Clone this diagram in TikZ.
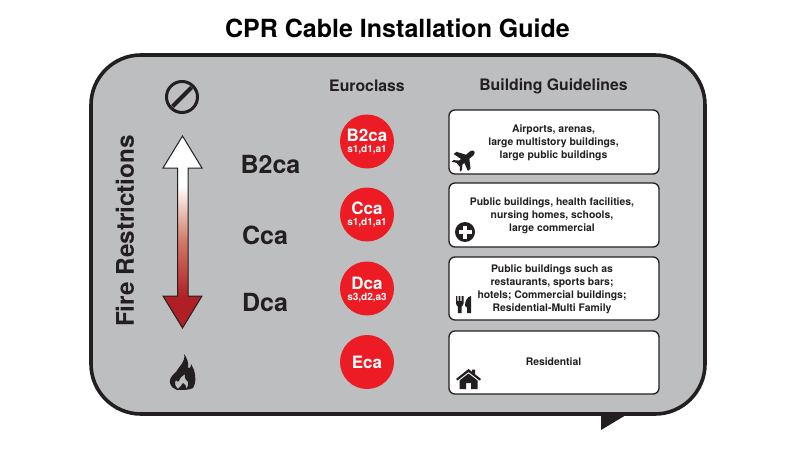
\documentclass[tikz,border=0pt]{standalone}
\usepackage{fontspec}
\setmainfont{TeX Gyre Heros}
\definecolor{inkblack}{HTML}{231F20}
\definecolor{bubblegrey}{HTML}{BCBEC0}
\definecolor{classred}{HTML}{ED1C24}
\definecolor{firered}{HTML}{B01F25}
\definecolor{firemid}{HTML}{D27C68}
\pgfdeclareverticalshading{firegrad}{100bp}{color(0bp)=(firered); color(33bp)=(firered); color(48bp)=(firemid); color(62bp)=(white); color(100bp)=(white)}
\tikzset{
  headtext/.style={font=\bfseries\fontsize{15.8}{18}\selectfont,text=inkblack},
  classtext/.style={font=\bfseries\fontsize{25}{28}\selectfont,text=inkblack},
  guidebox/.style={draw=inkblack,line width=1.3pt,fill=white,rounded corners=6pt},
  guidetext/.style={font=\bfseries\fontsize{10.4}{13}\selectfont,text=inkblack,align=center},
  classdisc/.style={circle,fill=classred,minimum size=54pt,inner sep=0pt},
  discbig/.style={font=\bfseries\fontsize{17}{17}\selectfont,text=white,inner sep=0pt},
  discsmall/.style={font=\bfseries\fontsize{10}{10}\selectfont,text=white,inner sep=0pt},
}
\begin{document}
\begin{tikzpicture}[scale=1.000000,x=1pt,y=1pt]
\useasboundingbox (0,0) rectangle (795,448);
% Title
\node[font=\bfseries\fontsize{25}{28}\selectfont,text=black] (title) at (397.5,420) {CPR Cable Installation Guide};
% Speech bubble
\draw[line width=3.6pt,draw=inkblack,fill=bubblegrey] (141,393) -- (655,393) arc (90:0:50) -- (705,84) arc (0:-90:50) -- (141,34) arc (270:180:50) -- (91,343) arc (180:90:50) -- cycle;
\fill[inkblack] (601,36) -- (601,18) -- (631,36) -- cycle;
% Column headings
\node[headtext] (euroclass) at (367,362) {Euroclass};
\node[headtext] (guidelines) at (553.5,362) {Building Guidelines};
% Side label and class names
\node[rotate=90,font=\bfseries\fontsize{24.3}{28}\selectfont,text=inkblack] (restrictions) at (125,217) {Fire Restrictions};
\node[classtext] (labelb) at (270.5,284) {B2ca};
\node[classtext] (labelc) at (265,213) {Cca};
\node[classtext] (labeld) at (265,146) {Dca};
% No-entry icon
\draw[line width=3pt,draw=inkblack] (182,351) circle (15.5pt);
\draw[line width=4pt,draw=inkblack] (172.5,341.5) -- (191.5,360.5);
% Double arrow
\path[draw=inkblack,line width=1pt,shading=firegrad] (182.5,312) -- (202,280) -- (188,280) -- (188,152) -- (202,152) -- (182.5,120) -- (163,152) -- (177.5,152) -- (177.5,280) -- (163,280) -- cycle;
% Flame icon
\fill[inkblack,even odd rule] (184,94) .. controls (186,86) and (179,82) .. (176,76) .. controls (171,72) and (169,68) .. (170,65) .. controls (171,61) and (174,59) .. (177,58) .. controls (183,58) and (190,58) .. (193,60) .. controls (196,65) and (196,70) .. (194,78) .. controls (193,80) and (192,82) .. (191,84) .. controls (191,80) and (189,79) .. (188,80) .. controls (189,85) and (187,90) .. (184,94) -- cycle
 (178,59) .. controls (175,62) and (174,65) .. (176,68) .. controls (177,66) and (178,66) .. (179,67) .. controls (180,71) and (183,72) .. (185,74) .. controls (184,70) and (186,68) .. (188,66) .. controls (189,64) and (188,61) .. (186,59) .. controls (187,62) and (185,64) .. (183,65) .. controls (182,63) and (180,61) .. (178,59) -- cycle;
% Euroclass discs
\node[classdisc] (discb) at (367,306.5) {};
\node[discbig] (discbname) at (367,313) {B2ca};
\node[discsmall] (discbcode) at (367,298.5) {s1,d1,a1};
\node[classdisc] (discc) at (367,233.5) {};
\node[discbig] (disccname) at (367,240) {Cca};
\node[discsmall] (discccode) at (367,225.5) {s1,d1,a1};
\node[classdisc] (discd) at (367,159.5) {};
\node[discbig] (discdname) at (367,165) {Dca};
\node[discsmall] (discdcode) at (367,150.5) {s3,d2,a3};
\node[classdisc] (disce) at (367,86) {};
\node[discbig] (discename) at (367,86) {Eca};
% Guideline boxes
\draw[guidebox] (449,274) rectangle (659,338);
\draw[guidebox] (449,201) rectangle (659,265);
\draw[guidebox] (449,128) rectangle (659,191);
\draw[guidebox] (449,54) rectangle (659,117);
\node[guidetext] (guideb) at (553.5,305) {Airports, arenas,\\large multistory buildings,\\large public buildings};
\node[guidetext] (guidec) at (552,232) {Public buildings, health facilities,\\nursing homes, schools,\\large commercial};
\node[guidetext] (guided) at (552,158.5) {Public buildings such as\\restaurants, sports bars;\\hotels; Commercial buildings;\\Residential-Multi Family};
\node[guidetext] (guidee) at (553.5,86) {Residential};
% Plane icon
\begin{scope}[shift={(465,289)},rotate=-50]
\fill[inkblack] (-2.6,-9) -- (-6.5,-12) -- (-6.5,-9.5) -- (-2.6,-5.5) -- (-2.6,-3) -- (-11,-5.5) -- (-11,-2) -- (-2.6,3.5) -- (-2.6,9) .. controls (-2,13) and (2,13) .. (2.6,9) -- (2.6,3.5) -- (11,-2) -- (11,-5.5) -- (2.6,-3) -- (2.6,-5.5) -- (6.5,-9.5) -- (6.5,-12) -- (2.6,-9) -- cycle;
\end{scope}
% Plus icon
\fill[inkblack] (465,216) circle (10pt);
\fill[white] (463.2,209.5) rectangle (466.8,222.5);
\fill[white] (458.5,214.2) rectangle (471.5,217.8);
% Cutlery icon
\fill[inkblack] (456,152) -- (457.3,152) -- (457.3,147) -- (458.7,147) -- (458.7,152) -- (460.3,152) -- (460.3,147) -- (461.7,147) -- (461.7,152) -- (463.5,152) -- (463.5,144.5) .. controls (463.5,143) and (462,142) .. (461.7,141.5) -- (461.7,135) -- (457.8,135) -- (457.8,141.5) .. controls (457.5,142) and (456,143) .. (456,144.5) -- cycle;
\fill[inkblack] (471,152) .. controls (467,151) and (465,147) .. (465,142) -- (467,140.5) -- (467,135) -- (471,135) -- cycle;
% House icon
\fill[inkblack] (456,69) -- (468.5,79) -- (472,76.3) -- (472,78.5) -- (475,78.5) -- (475,73.8) -- (481,69) -- (479.5,67.5) -- (468.5,76) -- (457.5,67.5) -- cycle;
\fill[inkblack] (459.5,59) -- (459.5,67.5) -- (468.5,74.5) -- (477.5,67.5) -- (477.5,59) -- (471,59) -- (471,65) -- (466,65) -- (466,59) -- cycle;
\end{tikzpicture}
\end{document}
